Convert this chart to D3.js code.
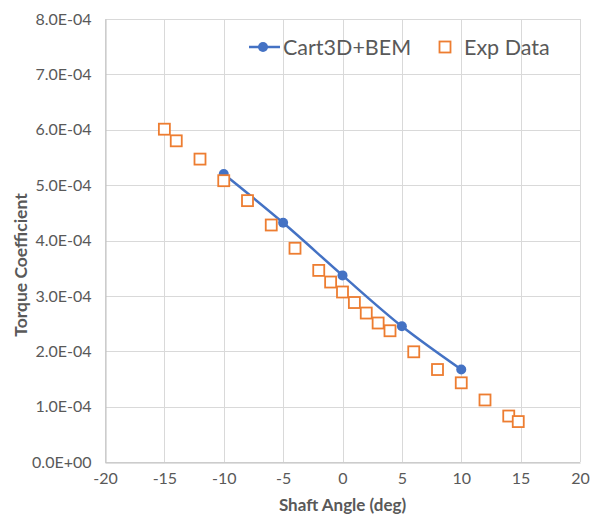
<!DOCTYPE html>
<html>
<head>
<meta charset="utf-8">
<script src="https://cdn.jsdelivr.net/npm/d3@7"></script>
<style>
    body { margin: 0; background: #fff; }
    svg { display: block; }
</style>
</head>
<body>
<svg id="chart" width="593" height="516"></svg>
<script>
// Cart3D+BEM (smoothed line with dots)
var cfdAngle = [-10, -5, 0, 5, 10];
var cfdCq = [5.20e-4, 4.32e-4, 3.37e-4, 2.45e-4, 1.67e-4];

// experiment (open squares)
var expAngle = [-15, -14, -12, -10, -8, -6, -4, -2, -1, 0, 1, 2, 3, 4, 6, 8, 10, 12, 14, 14.8];
var expCq = [6.01e-4, 5.80e-4, 5.47e-4, 5.08e-4, 4.72e-4, 4.28e-4, 3.86e-4, 3.46e-4, 3.25e-4, 3.07e-4,
             2.88e-4, 2.69e-4, 2.51e-4, 2.37e-4, 1.99e-4, 1.67e-4, 1.43e-4, 1.12e-4, 0.83e-4, 0.73e-4];

var xTicks = [-20, -15, -10, -5, 0, 5, 10, 15, 20];
var yTicks = [0, 1e-4, 2e-4, 3e-4, 4e-4, 5e-4, 6e-4, 7e-4, 8e-4];

var seriesNames = ["Cart3D+BEM", "Exp Data"];

var blue = "#4472c4",
    orange = "#ed7d31",
    textCol = "#595959",
    gridCol = "#d9d9d9",
    font = "Lato, 'Open Sans', sans-serif";

var svg = d3.select("svg#chart");

var x = d3.scaleLinear().domain([-20, 20]).range([105, 580]);
var y = d3.scaleLinear().domain([0, 8e-4]).range([462, 19]);

function sci(d) {
    var p = d.toExponential(1).split("e");
    var e = +p[1];
    var s = e < 0 ? "-" : "+";
    var a = Math.abs(e);
    return p[0] + "E" + s + (a < 10 ? "0" + a : a);
}

// gridlines
svg.append("g")
    .selectAll("line")
    .data(yTicks)
    .enter()
    .append("line")
    .attr("x1", x(-20))
    .attr("x2", x(20))
    .attr("y1", d => Math.round(y(d)) + 0.5)
    .attr("y2", d => Math.round(y(d)) + 0.5)
    .attr("stroke", gridCol)
    .attr("stroke-width", 1);

svg.append("g")
    .selectAll("line")
    .data(xTicks)
    .enter()
    .append("line")
    .attr("x1", d => Math.round(x(d)) + 0.5)
    .attr("x2", d => Math.round(x(d)) + 0.5)
    .attr("y1", y(0))
    .attr("y2", y(8e-4))
    .attr("stroke", gridCol)
    .attr("stroke-width", 1);

// axes
var xAxis = svg.append("g")
    .attr("transform", "translate(0," + (Math.round(y(0)) + 0.5) + ")")
    .call(d3.axisBottom(x).tickValues(xTicks).tickSize(0).tickPadding(12).tickFormat(d => String(d)));

var yAxis = svg.append("g")
    .attr("transform", "translate(" + (Math.round(x(-20)) + 0.5) + ",0)")
    .call(d3.axisLeft(y).tickValues(yTicks).tickSize(0).tickPadding(14).tickFormat(sci));

[xAxis, yAxis].forEach(function(a) {
    a.select(".domain").attr("stroke", "#bfbfbf");
    a.selectAll("text")
        .attr("fill", textCol)
        .attr("font-family", font)
        .attr("font-size", "16px");
});
xAxis.selectAll("text").attr("dy", "0.6em");

// axis titles
svg.append("text")
    .attr("x", x(0))
    .attr("y", 511)
    .attr("text-anchor", "middle")
    .attr("font-family", font)
    .attr("font-weight", "bold")
    .attr("font-size", "17px")
    .attr("fill", textCol)
    .text("Shaft Angle (deg)");

svg.append("text")
    .attr("transform", "translate(27,265) rotate(-90)")
    .attr("text-anchor", "middle")
    .attr("font-family", font)
    .attr("font-weight", "bold")
    .attr("font-size", "17.5px")
    .attr("fill", textCol)
    .text("Torque Coefficient");

// Cart3D+BEM line
var cfd = cfdAngle.map((a, i) => ({ a: a, v: cfdCq[i] }));
var line = d3.line()
    .x(d => x(d.a))
    .y(d => y(d.v))
    .curve(d3.curveCatmullRom.alpha(0.5));

svg.append("path")
    .datum(cfd)
    .attr("fill", "none")
    .attr("stroke", blue)
    .attr("stroke-width", 2.5)
    .attr("d", line);

svg.append("g")
    .selectAll("circle")
    .data(cfd)
    .enter()
    .append("circle")
    .attr("cx", d => x(d.a))
    .attr("cy", d => y(d.v))
    .attr("r", 5)
    .attr("fill", blue);

// experiment squares
var exp = expAngle.map((a, i) => ({ a: a, v: expCq[i] }));
var sq = 11;
svg.append("g")
    .selectAll("rect")
    .data(exp)
    .enter()
    .append("rect")
    .attr("x", d => x(d.a) - sq / 2)
    .attr("y", d => y(d.v) - sq / 2)
    .attr("width", sq)
    .attr("height", sq)
    .attr("fill", "#fff")
    .attr("stroke", orange)
    .attr("stroke-width", 1.8);

// legend
var legend = svg.append("g").attr("transform", "translate(0,47)");

legend.append("line")
    .attr("x1", 249)
    .attr("x2", 280)
    .attr("stroke", blue)
    .attr("stroke-width", 2.5);
legend.append("circle")
    .attr("cx", 263)
    .attr("r", 5)
    .attr("fill", blue);
legend.append("text")
    .attr("x", 283)
    .attr("dy", "0.35em")
    .attr("font-family", font)
    .attr("font-size", "21.5px")
    .attr("fill", textCol)
    .text(seriesNames[0]);

legend.append("rect")
    .attr("x", 445 - sq / 2)
    .attr("y", -sq / 2)
    .attr("width", sq)
    .attr("height", sq)
    .attr("fill", "#fff")
    .attr("stroke", orange)
    .attr("stroke-width", 1.8);
legend.append("text")
    .attr("x", 464)
    .attr("dy", "0.35em")
    .attr("font-family", font)
    .attr("font-size", "21.5px")
    .attr("fill", textCol)
    .text(seriesNames[1]);
</script>
</body>
</html>
